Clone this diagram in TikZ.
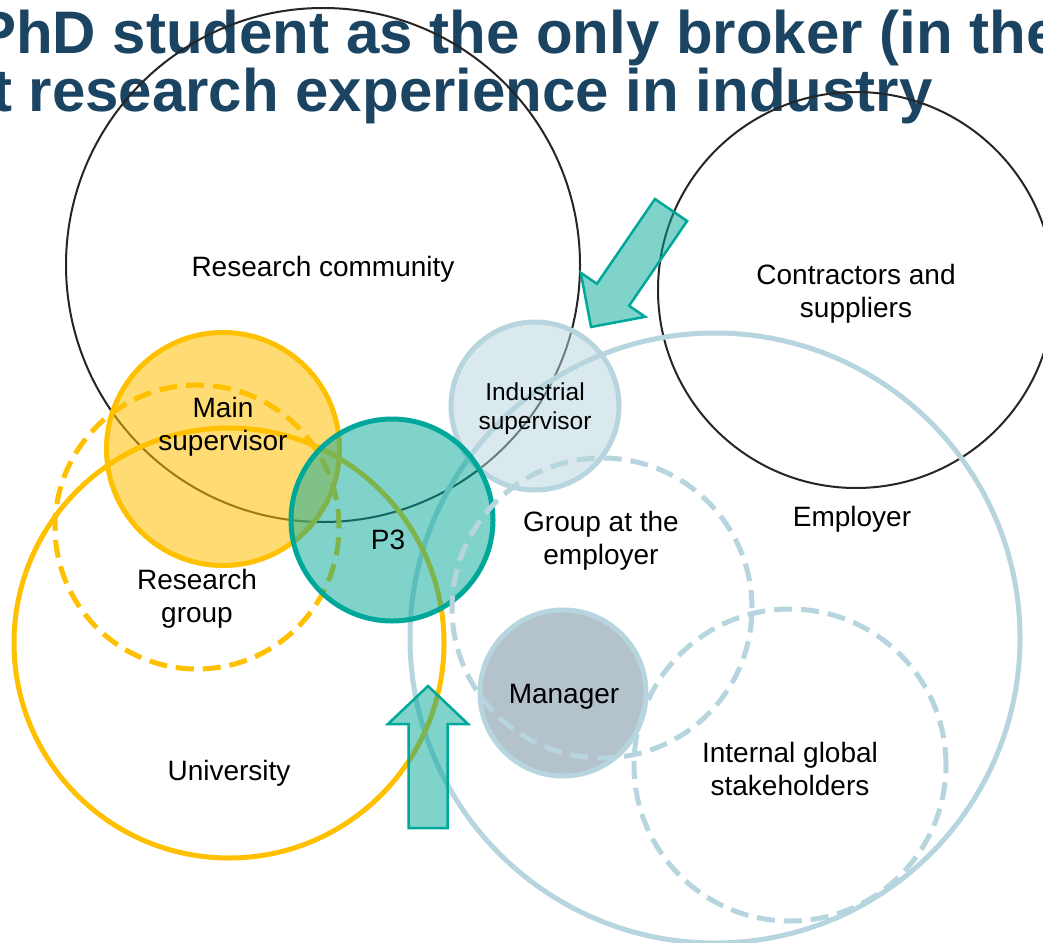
\documentclass[tikz,border=0pt]{standalone}
\usepackage{fontspec}
\setmainfont{Liberation Sans}
\definecolor{titleblue}{RGB}{27,68,98}
\definecolor{gold}{RGB}{255,192,0}
\definecolor{lblue}{RGB}{183,213,222}
\definecolor{tealc}{RGB}{0,168,153}
\definecolor{mgray}{RGB}{180,194,203}
\definecolor{darkline}{RGB}{38,38,38}
\begin{document}
\begin{tikzpicture}[x=1pt,y=-1pt,
  ring/.style={circle, inner sep=0pt, outer sep=0pt},
  blackring/.style={ring, draw=darkline, line width=2pt},
  goldring/.style={ring, draw=gold, line width=5pt},
  bluering/.style={ring, draw=lblue, line width=5pt},
  dashring/.style={dash pattern=on 18pt off 9pt},
  tealfill/.style={fill=tealc, fill opacity=0.5},
  arrowshape/.style={draw=tealc, line width=2.5pt, line join=miter, fill=tealc, fill opacity=0.5},
  lbl/.style={font=\fontsize{28}{33}\selectfont, align=center, text=black, inner sep=0pt},
  smalllbl/.style={font=\fontsize{24.5}{29}\selectfont, align=center, text=black, inner sep=0pt},
  titletext/.style={font=\fontsize{60}{60}\selectfont\bfseries, text=titleblue, inner sep=0pt, anchor=base west}
]
\clip (0,0) rectangle (1043,942);
\fill[white] (0,0) rectangle (1043,942);

% title (lies beneath the circles)
\node[titletext] (title1) at (-24,53) {PhD student as the only broker (in the};
\node[titletext] (title2) at (-8,111) {t research experience in industry};

% large rings
\node[blackring, minimum size=514pt] (rc) at (323,265) {};
\node[blackring, minimum size=396pt] (cs) at (856,290) {};
\node[bluering, minimum size=610pt] (emp) at (715,638) {};
\node[goldring, minimum size=430pt] (uni) at (229,643) {};
\node[goldring, dashring, minimum size=284pt] (rg) at (197,527) {};

% filled circles
\node[goldring, fill=gold, fill opacity=0.55, minimum size=233pt] (ms) at (223,449) {};
\node[bluering, fill=lblue, fill opacity=0.5, minimum size=168pt] (is) at (535,406) {};
\node[ring, draw=tealc, line width=5pt, tealfill, minimum size=202pt] (p3) at (392,520) {};
\node[bluering, fill=mgray, minimum size=166pt] (mgr) at (563,693) {};

% dashed employer rings
\node[bluering, dashring, minimum size=300pt] (gae) at (602,608) {};
\node[bluering, dashring, minimum size=312pt] (igs) at (790,765) {};

% block arrows
\draw[arrowshape] (408.5,828) -- (408.5,724) -- (388,724) -- (428,686) -- (468,724)
  -- (447.5,724) -- (447.5,828) -- cycle;
\draw[arrowshape] (654.9,199.0) -- (596.9,283.8) -- (580.8,272.8) -- (591,327)
  -- (645.2,316.8) -- (629.1,305.8) -- (687.1,221.0) -- cycle;

% labels
\node[lbl] (lrc) at (323,269) {Research community};
\node[lbl] (lcs) at (856,294) {Contractors and\\suppliers};
\node[lbl] (lms) at (223,427) {Main\\supervisor};
\node[smalllbl] (lis) at (535,409) {Industrial\\supervisor};
\node[lbl] (lp3) at (388,540) {P3};
\node[lbl] (lgae) at (601,541) {Group at the\\employer};
\node[lbl] (lemp) at (852,519) {Employer};
\node[lbl] (lrg) at (197,599) {Research\\group};
\node[lbl] (lmgr) at (564,697) {Manager};
\node[lbl] (luni) at (229,773) {University};
\node[lbl] (ligs) at (790,769) {Internal global\\stakeholders};
\end{tikzpicture}
\end{document}
